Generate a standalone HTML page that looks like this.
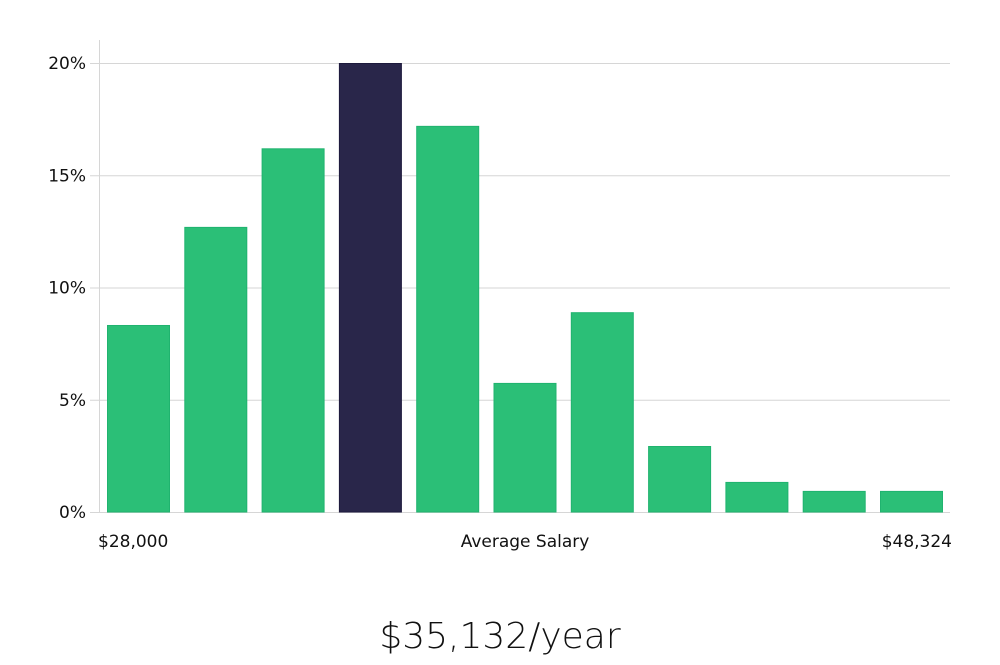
<!DOCTYPE html>
<html><head><meta charset="utf-8"><style>
body{margin:0;background:#fff;width:1000px;height:660px;overflow:hidden}
svg text{font-family:"DejaVu Sans","Liberation Sans",sans-serif;fill:#111}
</style></head><body>
<svg id="c" width="1000" height="660"></svg>
<script>
const categories=["b1","b2","b3","b4","b5","b6","b7","b8","b9","b10","b11"];
const values=[8.33,12.7,16.2,20,17.2,5.75,8.9,2.94,1.34,0.94,0.94];
const highlight=[false,false,false,true,false,false,false,false,false,false,false];
const yTicks=[0,5,10,15,20];
const yTickLabels=["0%","5%","10%","15%","20%"];
const svg=document.getElementById('c');
const NS='http://www.w3.org/2000/svg';
const y0=512,yTop=63,yMax=20;
const y=v=>y0-(v/yMax)*(y0-yTop);
const x0=107,pitch=77.3,bw=63;
const x=i=>x0+i*pitch;
function mk(t,a){const e=document.createElementNS(NS,t);for(const k in a)e.setAttribute(k,a[k]);svg.appendChild(e);return e;}
let ax=mk('line',{x1:99.5,y1:40,x2:99.5,y2:512,stroke:'#d6d6d6','stroke-width':1});


yTicks.forEach((t,i)=>{
 const g=mk('line',{x1:90,y1:y(t)+0.5,x2:950,y2:y(t)+0.5,stroke:'#d6d6d6','stroke-width':1});
 
 
 const l=mk('text',{x:86,y:y(t)+6,'text-anchor':'end','font-size':17});
 l.textContent=yTickLabels[i];
 
 
});
values.forEach((v,i)=>{
 const r=mk('rect',{x:x(i)+0.5,y:y(v)+0.5,width:bw-1,height:y0-y(v)-0.5,fill:highlight[i]?'#29264a':'#2bbf77',stroke:highlight[i]?'#1d1a3d':'#20b36f','stroke-width':1});
 
 
});
function txt(s,xx,yy,anchor,size,name,extra){const t=mk('text',Object.assign({x:xx,y:yy,'text-anchor':anchor,'font-size':size},extra||{}));t.textContent=s;return t;}
txt('$28,000',98,547,'start',17,'x-min-label');
txt('Average Salary',525,547,'middle',17,'x-axis-title');
txt('$48,324',952,547,'end',17,'x-max-label');
txt('$35,132/year',500,648,'middle',36,'average-salary-value',{'font-weight':'300'});
</script>
</body></html>
